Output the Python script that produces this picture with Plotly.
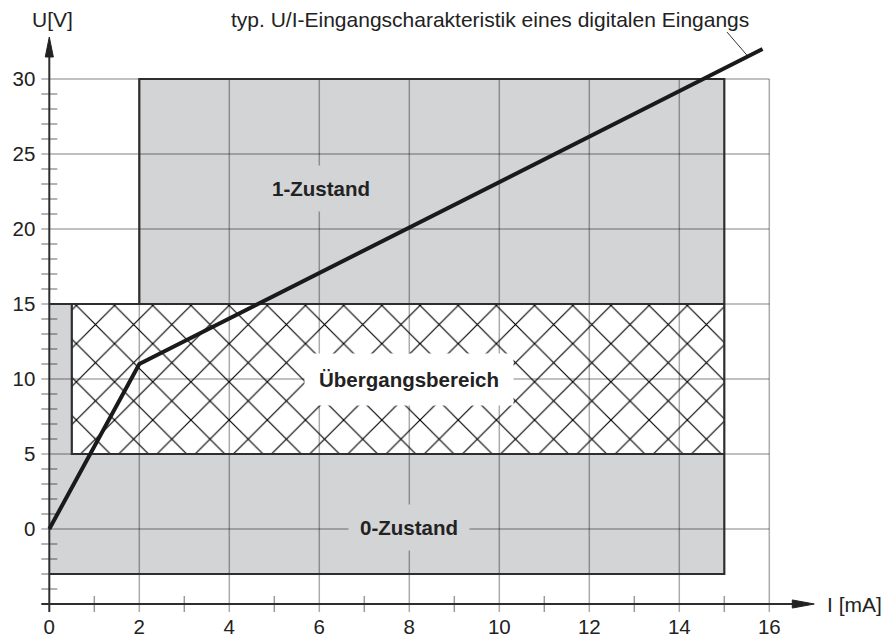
import plotly.graph_objects as go

# ---------------- data ----------------
I_ticks = [0, 2, 4, 6, 8, 10, 12, 14, 16]
I_ticklabels = ["0", "2", "4", "6", "8", "10", "12", "14", "16"]
U_ticks = [0, 5, 10, 15, 20, 25, 30]
U_ticklabels = ["0", "5", "10", "15", "20", "25", "30"]
I_minor = [1, 3, 5, 7, 9, 11, 13, 15]
U_minor = [-4, -3, -2, -1, 1, 2, 3, 4, 6, 7, 8, 9, 11, 12, 13, 14,
           16, 17, 18, 19, 21, 22, 23, 24, 26, 27, 28, 29]

curve_I = [0, 2, 15.85]
curve_U = [0, 11, 32]

zone1_I = [2, 15]      # 1-Zustand
zone1_U = [15, 30]
trans_I = [0.5, 15]    # Übergangsbereich
trans_U = [5, 15]
zone0_I = [0, 15]      # 0-Zustand
zone0_U = [-3, 5]

axis_U = -5            # position of the I axis
I_axis_end = 17.0
U_axis_end = 32.8
grid_I_max = 16
grid_U_max = 30

# ---------------- styles ----------------
FONT = "Liberation Sans, Arial, sans-serif"
GRAY = "#d3d4d6"
DARK = "#2e2e2e"
GRID = "rgba(0,0,0,0.33)"
tx = 8 / 45.0   # tick half length in I units
ty = 8 / 15.0   # tick half length in U units

fig = go.Figure()

def rect(i, u):
    return ([i[0], i[1], i[1], i[0], i[0]], [u[0], u[0], u[1], u[1], u[0]])

# gray areas
x, y = rect(zone0_I, [zone0_U[0], trans_U[1]])
fig.add_trace(go.Scatter(x=x, y=y, fill="toself", fillcolor=GRAY, mode="lines",
                         line=dict(width=0), hoverinfo="skip", showlegend=False))
x, y = rect(zone1_I, zone1_U)
fig.add_trace(go.Scatter(x=x, y=y, fill="toself", fillcolor=GRAY, mode="lines",
                         line=dict(width=0), hoverinfo="skip", showlegend=False))
# hatched transition area
x, y = rect(trans_I, trans_U)
fig.add_trace(go.Scatter(x=x, y=y, fill="toself", fillcolor="white", mode="lines",
                         line=dict(width=0),
                         fillpattern=dict(shape="x", fgcolor="#000000", bgcolor="white",
                                          fgopacity=1, size=27, solidity=0.085),
                         hoverinfo="skip", showlegend=False))

# grid lines
gx, gy = [], []
for u in U_ticks:
    gx += [-tx, grid_I_max, None]
    gy += [u, u, None]
for i in I_ticks[1:]:
    gx += [i, i, None]
    gy += [axis_U - ty, grid_U_max, None]
fig.add_trace(go.Scatter(x=gx, y=gy, mode="lines", line=dict(color=GRID, width=1.5),
                         hoverinfo="skip", showlegend=False))

# minor ticks
mx, my = [], []
for u in U_minor:
    mx += [-tx, tx, None]
    my += [u, u, None]
for i in I_minor:
    mx += [i, i, None]
    my += [axis_U - ty, axis_U + ty, None]
fig.add_trace(go.Scatter(x=mx, y=my, mode="lines", line=dict(color="rgba(0,0,0,0.4)", width=1.5),
                         hoverinfo="skip", showlegend=False))

# region outlines
ox = [zone0_I[0], zone1_I[0], zone1_I[0], zone1_I[1], zone1_I[1], zone0_I[0], None,
      zone0_I[0], trans_I[1], None,
      trans_I[0], trans_I[0], trans_I[1]]
oy = [zone1_U[0], zone1_U[0], zone1_U[1], zone1_U[1], zone0_U[0], zone0_U[0], None,
      trans_U[1], trans_U[1], None,
      trans_U[1], trans_U[0], trans_U[0]]
fig.add_trace(go.Scatter(x=ox, y=oy, mode="lines", line=dict(color=DARK, width=2.2),
                         hoverinfo="skip", showlegend=False))

# axes
fig.add_trace(go.Scatter(x=[-tx, I_axis_end - 0.4, None, 0, 0],
                         y=[axis_U, axis_U, None, axis_U - ty, U_axis_end - 1.0],
                         mode="lines", line=dict(color=DARK, width=2),
                         hoverinfo="skip", showlegend=False))
ah_x = 22 / 45.0
ah_y = 20 / 15.0
fig.add_trace(go.Scatter(x=[I_axis_end, I_axis_end - ah_x, I_axis_end - ah_x, I_axis_end],
                         y=[axis_U, axis_U + 0.27, axis_U - 0.27, axis_U],
                         fill="toself", fillcolor="#222222", mode="lines",
                         line=dict(color="#222222", width=1),
                         hoverinfo="skip", showlegend=False))
fig.add_trace(go.Scatter(x=[0, 0.09, -0.09, 0],
                         y=[U_axis_end, U_axis_end - ah_y, U_axis_end - ah_y, U_axis_end],
                         fill="toself", fillcolor="#222222", mode="lines",
                         line=dict(color="#222222", width=1),
                         hoverinfo="skip", showlegend=False))

# characteristic curve
fig.add_trace(go.Scatter(x=curve_I, y=curve_U, mode="lines",
                         line=dict(color="#1a1a1a", width=4),
                         hoverinfo="skip", showlegend=False))
# leader line to the label
fig.add_trace(go.Scatter(x=[15.06, 15.5], y=[33.13, 31.6], mode="lines",
                         line=dict(color="#333333", width=1),
                         hoverinfo="skip", showlegend=False))

ann = [
    dict(x=9.8, y=34.0, text="typ. U/I-Eingangscharakteristik eines digitalen Eingangs",
         font=dict(size=21, family=FONT, color="#222"), showarrow=False),
    dict(x=0.06, y=34.0, text="U[V]", font=dict(size=21, family=FONT, color="#222"),
         showarrow=False),
    dict(x=17.24, y=axis_U, text="I [mA]", xanchor="left",
         font=dict(size=21, family=FONT, color="#222"), showarrow=False),
    dict(x=6.04, y=22.7, text="<b>1-Zustand</b>", font=dict(size=20.5, family=FONT, color="#222"),
         showarrow=False, bgcolor=GRAY, borderpad=11),
    dict(x=8.0, y=10.0, text="<b>Übergangsbereich</b>", font=dict(size=20.5, family=FONT, color="#222"),
         showarrow=False, bgcolor="white", borderpad=14),
    dict(x=8.0, y=0.1, text="<b>0-Zustand</b>", font=dict(size=20.5, family=FONT, color="#222"),
         showarrow=False, bgcolor=GRAY, borderpad=11),
]

fig.update_layout(
    width=882, height=637,
    margin=dict(l=0, r=0, t=0, b=0, pad=0),
    paper_bgcolor="white", plot_bgcolor="white",
    showlegend=False,
    annotations=ann,
    xaxis=dict(range=[-49.3 / 45, (882 - 49.3) / 45], anchor="free",
               position=(637 - 604) / 637, tickvals=I_ticks, ticktext=I_ticklabels,
               ticks="", showgrid=False, zeroline=False, showline=False,
               tickfont=dict(size=20.5, family=FONT, color="#222"),
               ticklabelstandoff=8, fixedrange=True, automargin=False),
    yaxis=dict(range=[-(637 - 529) / 15, 529 / 15], anchor="free",
               position=49.3 / 882, tickvals=U_ticks, ticktext=U_ticklabels,
               ticks="", showgrid=False, zeroline=False, showline=False,
               tickfont=dict(size=20.5, family=FONT, color="#222"),
               ticklabelstandoff=14, fixedrange=True, automargin=False),
)

fig.write_html("out.html", config={"displayModeBar": False},
               post_script="document.body.style.margin='0';document.body.style.overflow='hidden';")
